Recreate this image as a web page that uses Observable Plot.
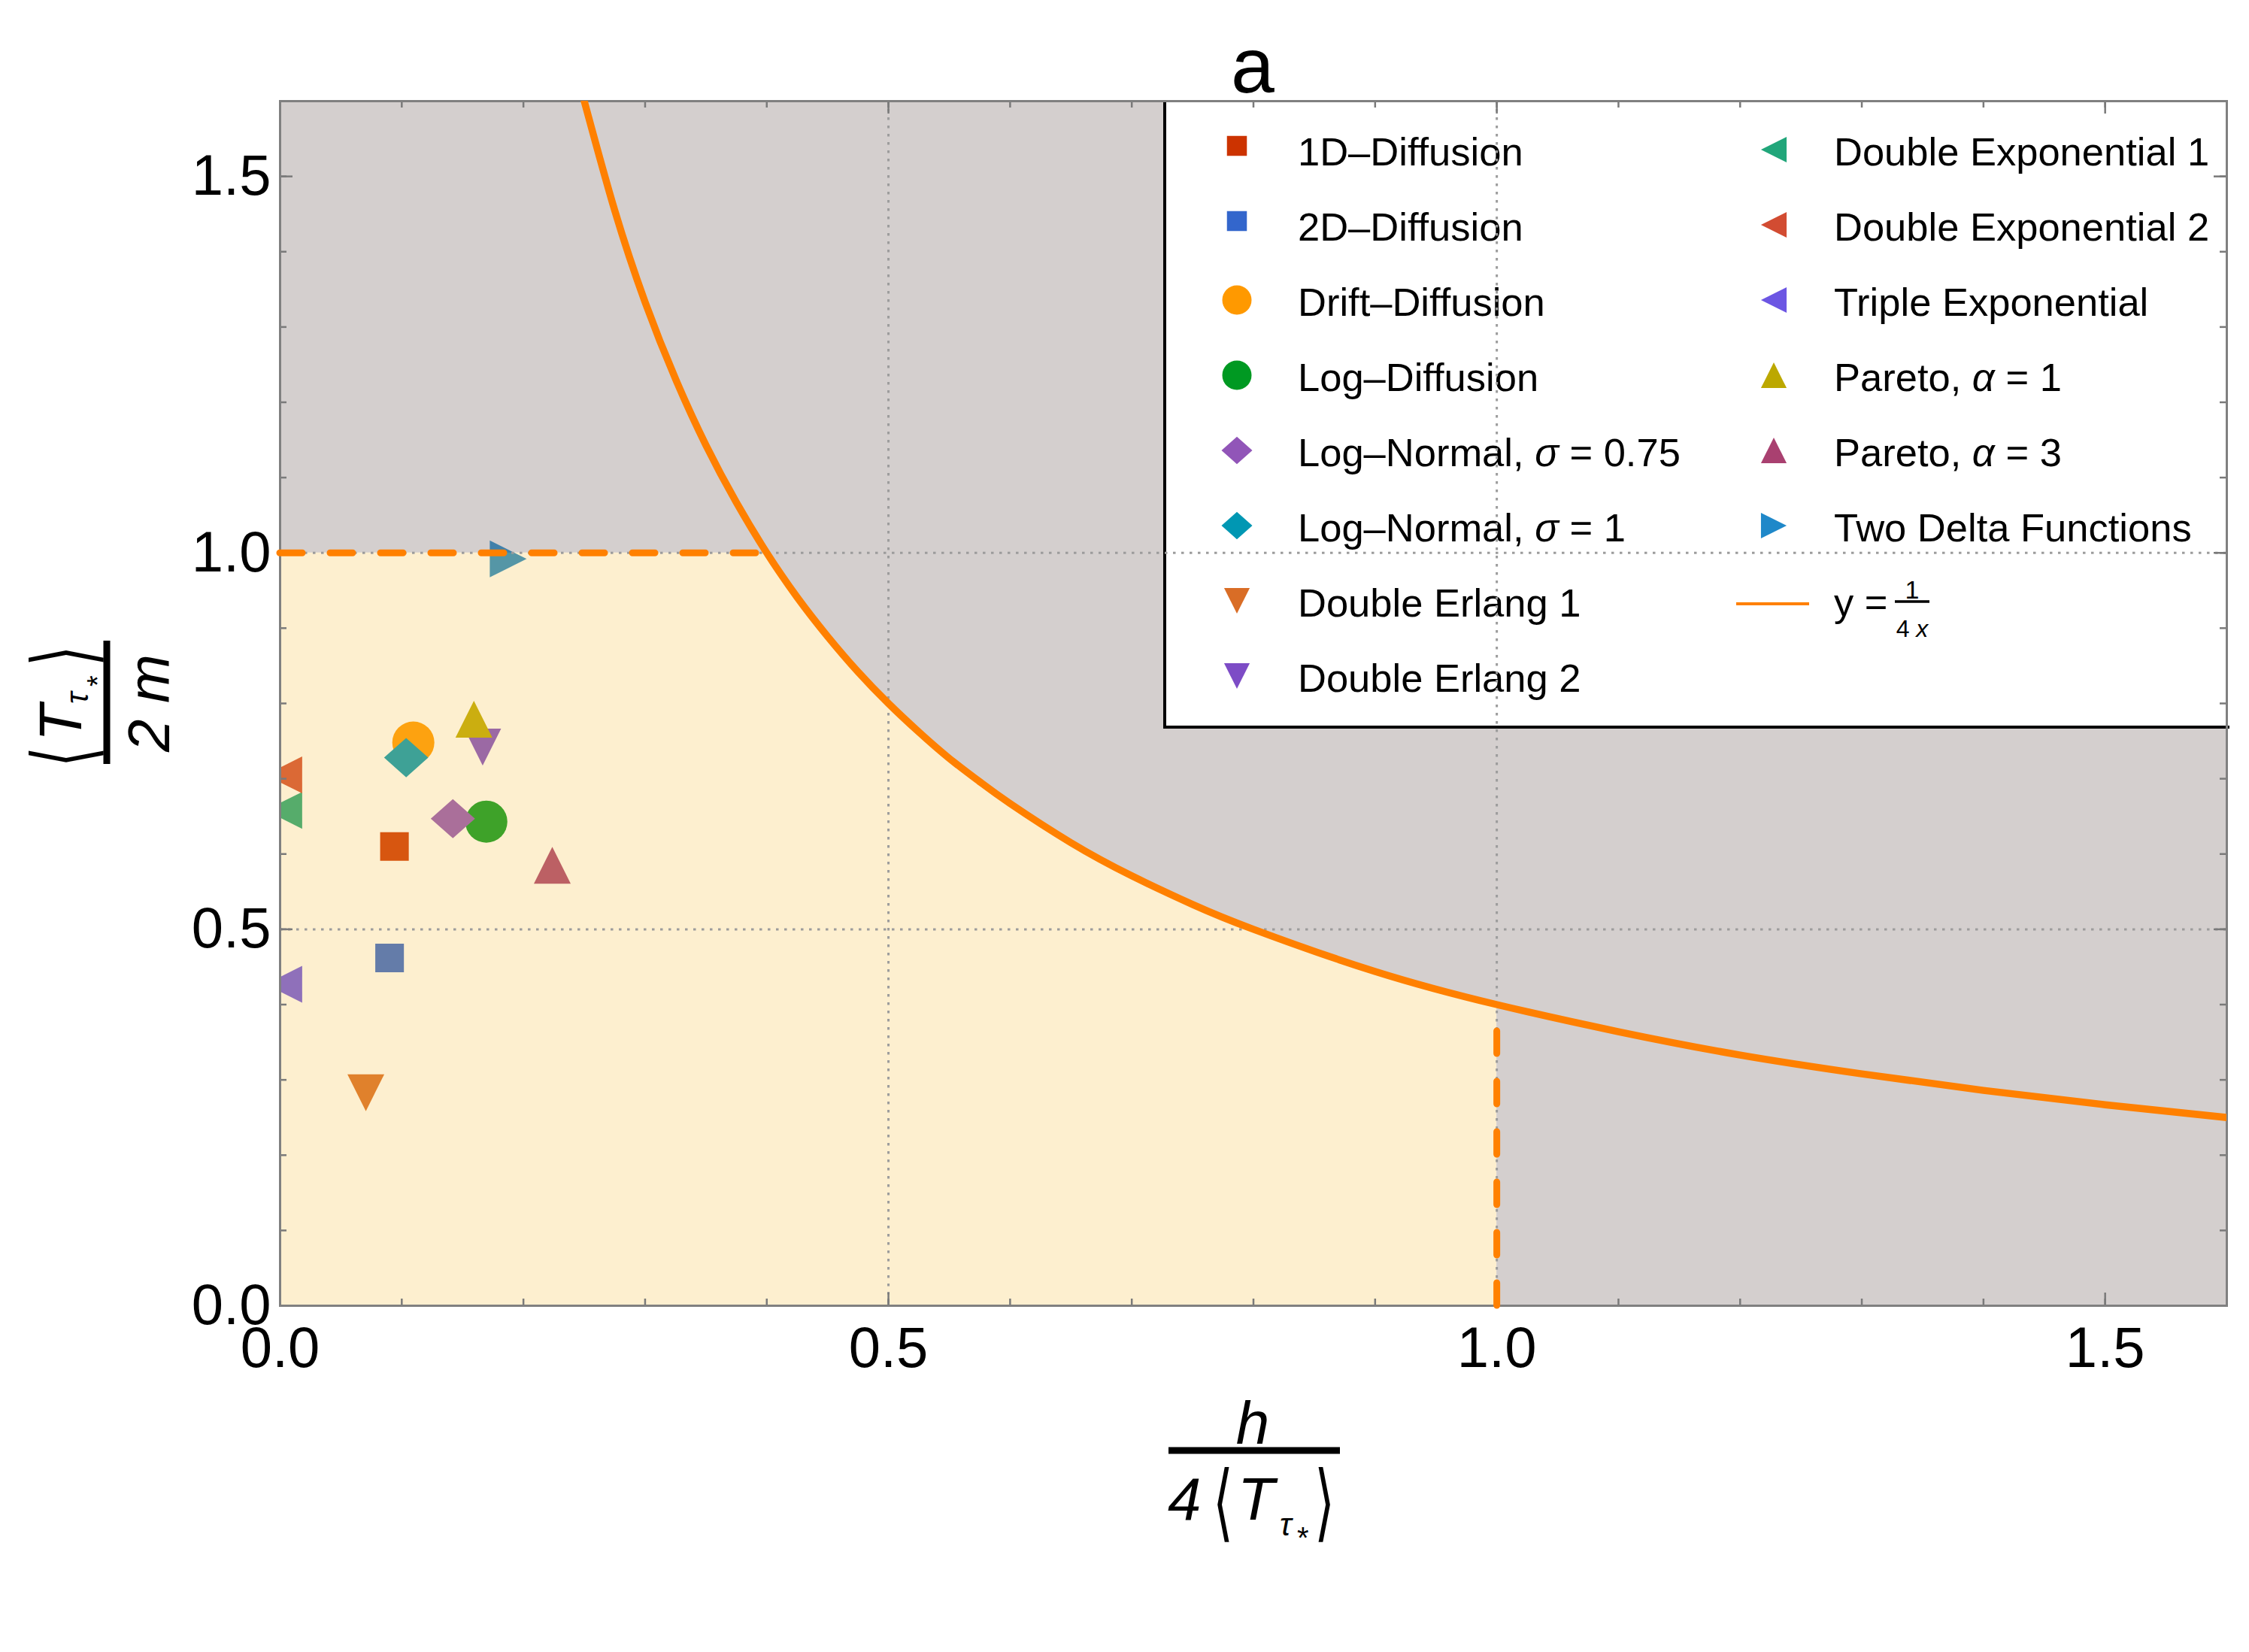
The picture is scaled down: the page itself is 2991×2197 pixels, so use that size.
<!DOCTYPE html>
<html>
<head>
<meta charset="utf-8">
<script src="https://cdn.jsdelivr.net/npm/d3@7"></script>
<script src="https://cdn.jsdelivr.net/npm/@observablehq/plot@0.6"></script>
<style>
  html, body { margin: 0; padding: 0; background: #ffffff; }
  #chart svg { display: block; }
</style>
</head>
<body>
<div id="chart"></div>
<script>
// ---------------- data ----------------
const seriesNames = ["1D–Diffusion", "2D–Diffusion", "Drift–Diffusion", "Log–Diffusion",
  "Log–Normal, σ = 0.75", "Log–Normal, σ = 1", "Double Erlang 1", "Double Erlang 2",
  "Double Exponential 1", "Double Exponential 2", "Triple Exponential",
  "Pareto, α = 1", "Pareto, α = 3", "Two Delta Functions"];
const seriesColors = ["#cc3300", "#3366cc", "#ff9900", "#009922", "#9155b8", "#0097b3",
  "#d96d26", "#7d4cc6", "#21a67a", "#d24c32", "#6c56e3", "#bca800", "#a94070", "#1f88c9"];
const seriesShapes = ["square", "square", "circle", "circle", "diamond", "diamond",
  "triangleDown", "triangleDown", "triangleLeft", "triangleLeft", "triangleLeft",
  "triangleUp", "triangleUp", "triangleRight"];
const seriesX = [0.094, 0.090, 0.1095, 0.1695, 0.142, 0.1036, 0.0705, 0.1665,
  0.003, 0.003, 0.003, 0.1593, 0.2237, 0.1875];
const seriesY = [0.610, 0.462, 0.748, 0.643, 0.647, 0.728, 0.283, 0.742,
  0.658, 0.705, 0.427, 0.779, 0.585, 0.992];

// boundary curve (the orange curve)
const boundaryX = [0.25, 0.275, 0.3, 0.325, 0.35, 0.375, 0.4, 0.425, 0.45, 0.475, 0.5, 0.525,
  0.55, 0.575, 0.6, 0.65, 0.7, 0.75, 0.8, 0.9, 1.0, 1.1, 1.2, 1.3, 1.4, 1.5, 1.6];
const boundaryY = [1.6, 1.455, 1.333, 1.231, 1.143, 1.067, 1.0, 0.941, 0.889, 0.842, 0.8, 0.762,
  0.727, 0.696, 0.667, 0.615, 0.571, 0.533, 0.5, 0.444, 0.4, 0.364, 0.333, 0.308, 0.286, 0.267, 0.25];

const dashH = [{y: 1.0, x1: 0, x2: 0.4}];
const dashV = [{x: 1.0, y1: 0, y2: 0.4}];

const axisTicks = [0, 0.5, 1.0, 1.5];
const gridTicks = [0.5, 1.0];
const minorTicks = [0, 0.1, 0.2, 0.3, 0.4, 0.5, 0.6, 0.7, 0.8, 0.9, 1.0, 1.1, 1.2, 1.3, 1.4, 1.5, 1.6];
const titleText = "a";
const curveLegendLabel = ["y =", "1", "4", "x"];

// ---------------- layout ----------------
const W = 2991, H = 2197;
const mL = 372, mR = 30, mT = 134, mB = 461;
const fw = W - mL - mR, fh = H - mT - mB;
const FONT = "Liberation Sans, Arial, Helvetica, sans-serif";

// custom marker symbols (size = pi r^2)
function mk(fn) { return {draw(ctx, size) { fn(ctx, Math.sqrt(size / Math.PI)); }}; }
const symbols = {
  square: mk((c, r) => { const s = 0.68 * r; c.moveTo(-s, -s); c.lineTo(s, -s); c.lineTo(s, s); c.lineTo(-s, s); c.closePath(); }),
  circle: mk((c, r) => { c.moveTo(r, 0); c.arc(0, 0, r, 0, 2 * Math.PI); }),
  diamond: mk((c, r) => { const w = 1.05 * r, h = 0.93 * r; c.moveTo(0, -h); c.lineTo(w, 0); c.lineTo(0, h); c.lineTo(-w, 0); c.closePath(); }),
  triangleUp: mk((c, r) => { const b = 0.875 * r; c.moveTo(0, -b); c.lineTo(b, b); c.lineTo(-b, b); c.closePath(); }),
  triangleDown: mk((c, r) => { const b = 0.875 * r; c.moveTo(0, b); c.lineTo(b, -b); c.lineTo(-b, -b); c.closePath(); }),
  triangleLeft: mk((c, r) => { const b = 0.875 * r; c.moveTo(-b, 0); c.lineTo(b, -b); c.lineTo(b, b); c.closePath(); }),
  triangleRight: mk((c, r) => { const b = 0.875 * r; c.moveTo(b, 0); c.lineTo(-b, -b); c.lineTo(-b, b); c.closePath(); })
};

const series = seriesNames.map((name, i) => ({
  name, color: seriesColors[i], shape: seriesShapes[i], x: seriesX[i], y: seriesY[i]
}));
const boundary = boundaryX.map((x, i) => ({x, y: boundaryY[i]}));
const inner = boundary.filter(d => d.x >= 0.4 && d.x <= 1.0);
// region below the bound (translucent yellow) and the rest of the frame (translucent grey)
const yellowRegion = [{x: 0, y: 1.0}].concat(inner);
const greyRegion = [{x: 0, y: 1.0}].concat(inner, [{x: 1.0, y: 0}, {x: 1.6, y: 0}]);

const gridStyle = {stroke: "#9c9c9c", strokeOpacity: 1, strokeWidth: 3, strokeDasharray: "3.5,7.5"};
const tickStyle = {stroke: "#7a7a7a", strokeWidth: 2.5};
const MINOR = 9, MAJOR = 17;
const dashStyle = {stroke: "#ff8000", strokeWidth: 9, strokeDasharray: "30,37", strokeLinecap: "round"};

const pointMarks = series.map(s => Plot.dot([s], {
  x: "x", y: "y", r: 28, symbol: symbols[s.shape], fill: s.color, stroke: null, clip: true
}));

const chart = Plot.plot({
  width: W, height: H,
  marginLeft: mL, marginRight: mR, marginTop: mT, marginBottom: mB,
  style: {fontFamily: FONT, background: "white", overflow: "visible"},
  x: {domain: [0, 1.6], label: null},
  y: {domain: [0, 1.6], label: null},
  marks: [
    ...pointMarks,
    Plot.areaY(yellowRegion, {x: "x", y1: 0, y2: "y", fill: "rgb(247,190,64)", fillOpacity: 0.25}),
    Plot.areaY(greyRegion, {x: "x", y1: "y", y2: 1.6, fill: "rgb(128,114,110)", fillOpacity: 0.34}),
    Plot.gridX(gridTicks, gridStyle),
    Plot.gridY(gridTicks, gridStyle),
    // frame ticks, pointing inward on all four sides
    Plot.tickX(minorTicks, {x: d => d, ...tickStyle, insetTop: fh - MINOR}),
    Plot.tickX(minorTicks, {x: d => d, ...tickStyle, insetBottom: fh - MINOR}),
    Plot.tickY(minorTicks, {y: d => d, ...tickStyle, insetRight: fw - MINOR}),
    Plot.tickY(minorTicks, {y: d => d, ...tickStyle, insetLeft: fw - MINOR}),
    Plot.tickX(axisTicks, {x: d => d, ...tickStyle, insetTop: fh - MAJOR}),
    Plot.tickX(axisTicks, {x: d => d, ...tickStyle, insetBottom: fh - MAJOR}),
    Plot.tickY(axisTicks, {y: d => d, ...tickStyle, insetRight: fw - MAJOR}),
    Plot.tickY(axisTicks, {y: d => d, ...tickStyle, insetLeft: fw - MAJOR}),
    Plot.frame({stroke: "#808080", strokeWidth: 3}),
    Plot.axisX({anchor: "bottom", ticks: axisTicks, tickSize: 0, tickPadding: 28,
      tickFormat: d3.format(".1f"), fontSize: 76, fill: "black", label: null}),
    Plot.axisY({anchor: "left", ticks: axisTicks, tickSize: 0, tickPadding: 12,
      tickFormat: d3.format(".1f"), fontSize: 76, fill: "black", label: null}),
    Plot.line(boundary, {x: "x", y: "y", stroke: "#ff8000", strokeWidth: 9.5, curve: "natural", clip: true}),
    Plot.ruleY(dashH, {y: "y", x1: "x1", x2: "x2", ...dashStyle}),
    Plot.ruleX(dashV, {x: "x", y1: "y1", y2: "y2", ...dashStyle})
  ]
});
document.getElementById("chart").appendChild(chart);

const svg = d3.select(chart);

// ---------------- legend (white box under grid lines and frame ticks) ----------------
const legend = d3.create("svg:g").attr("font-family", FONT).attr("font-size", 52.5)
  .attr("fill", "black").attr("text-anchor", "start");
const LX0 = 1549, LY1 = 967;
legend.append("rect").attr("x", LX0).attr("y", mT).attr("width", W - mR - LX0).attr("height", LY1 - mT)
  .attr("fill", "white");
legend.append("line").attr("x1", LX0).attr("x2", LX0).attr("y1", mT).attr("y2", LY1 + 2)
  .attr("stroke", "black").attr("stroke-width", 4);
legend.append("line").attr("x1", LX0).attr("x2", W - mR + 4).attr("y1", LY1).attr("y2", LY1)
  .attr("stroke", "black").attr("stroke-width", 4);

function richText(g, x, y, str) {
  const t = g.append("text").attr("x", x).attr("y", y);
  str.split(/([σα])/).forEach(part => {
    if (!part) return;
    const ts = t.append("tspan").text(part);
    if (/^[σα]$/.test(part)) ts.attr("font-style", "italic");
  });
  return t;
}
const rowY = i => 202 + 100 * i;
series.forEach((s, i) => {
  const col = i < 8 ? 0 : 1;
  const row = col === 0 ? i : i - 8;
  const mx = col === 0 ? 1645 : 2359;
  const tx = col === 0 ? 1726 : 2439;
  const cy = rowY(row) - (s.shape === "square" ? 8 : 3);
  const rr = 19.5;
  legend.append("path")
    .attr("transform", `translate(${mx},${cy})`)
    .attr("d", d3.symbol(symbols[s.shape], Math.PI * rr * rr)())
    .attr("fill", s.color);
  richText(legend, tx, rowY(row) + 18, s.name);
});
// curve entry
{
  const cy = rowY(6);
  legend.append("line").attr("x1", 2309).attr("x2", 2406).attr("y1", cy + 1).attr("y2", cy + 1)
    .attr("stroke", "#ff8000").attr("stroke-width", 4);
  legend.append("text").attr("x", 2439).attr("y", cy + 17).text(curveLegendLabel[0]);
  legend.append("text").attr("x", 2543).attr("y", cy - 6).attr("font-size", 34)
    .attr("text-anchor", "middle").text(curveLegendLabel[1]);
  legend.append("line").attr("x1", 2520).attr("x2", 2566).attr("y1", cy - 2).attr("y2", cy - 2)
    .attr("stroke", "black").attr("stroke-width", 3.5);
  const den = legend.append("text").attr("x", 2543).attr("y", cy + 45).attr("font-size", 32)
    .attr("text-anchor", "middle");
  den.append("tspan").text(curveLegendLabel[2] + " ");
  den.append("tspan").attr("font-style", "italic").text(curveLegendLabel[3]);
}
const gridNode = chart.querySelector('g[aria-label="x-grid"]');
if (gridNode) chart.insertBefore(legend.node(), gridNode); else chart.appendChild(legend.node());

// ---------------- title and axis labels ----------------
const lab = svg.append("g").attr("font-family", FONT).attr("fill", "black").attr("text-anchor", "start");
lab.append("text").attr("x", 1666).attr("y", 123).attr("text-anchor", "middle")
  .attr("font-size", 104).text(titleText);

const BR = "DejaVu Sans, Noto Sans, sans-serif";
function bracket(g, x, y, ch) {
  g.append("text").attr("transform", `translate(${x},${y}) scale(0.62,1)`)
    .attr("font-family", BR).attr("font-size", 112).attr("font-weight", 200).text(ch);
}
// x label: h / 4<T_{tau*}>
{
  const g = lab.append("g");
  g.append("text").attr("x", 1666).attr("y", 1920).attr("text-anchor", "middle")
    .attr("font-size", 80).attr("font-style", "italic").text("h");
  g.append("line").attr("x1", 1554).attr("x2", 1782).attr("y1", 1929).attr("y2", 1929)
    .attr("stroke", "black").attr("stroke-width", 9);
  g.append("text").attr("x", 1553).attr("y", 2021).attr("font-size", 80).attr("font-style", "italic").text("4");
  bracket(g, 1613, 2036, "⟨");
  g.append("text").attr("x", 1646).attr("y", 2021).attr("font-size", 80).attr("font-style", "italic").text("T");
  g.append("text").attr("x", 1702).attr("y", 2042).attr("font-size", 42).attr("font-style", "italic").text("τ");
  g.append("text").attr("x", 1725).attr("y", 2059).attr("font-size", 40).text("*");
  bracket(g, 1748, 2036, "⟩");
}
// y label: <T_{tau*}> / 2m  (rotated)
{
  const g = lab.append("g").attr("transform", "translate(142,934) rotate(-90)");
  g.append("line").attr("x1", -82).attr("x2", 82).attr("y1", 0).attr("y2", 0)
    .attr("stroke", "black").attr("stroke-width", 9);
  bracket(g, -86, -19, "⟨");
  g.append("text").attr("x", -52).attr("y", -34).attr("font-size", 80).attr("font-style", "italic").text("T");
  g.append("text").attr("x", -2).attr("y", -25).attr("font-size", 42).attr("font-style", "italic").text("τ");
  g.append("text").attr("x", 21).attr("y", 1).attr("font-size", 38).text("*");
  bracket(g, 48, -19, "⟩");
  g.append("text").attr("x", -1).attr("y", 83).attr("text-anchor", "middle")
    .attr("font-size", 78).attr("font-style", "italic").text("2 m");
}
</script>
</body>
</html>
